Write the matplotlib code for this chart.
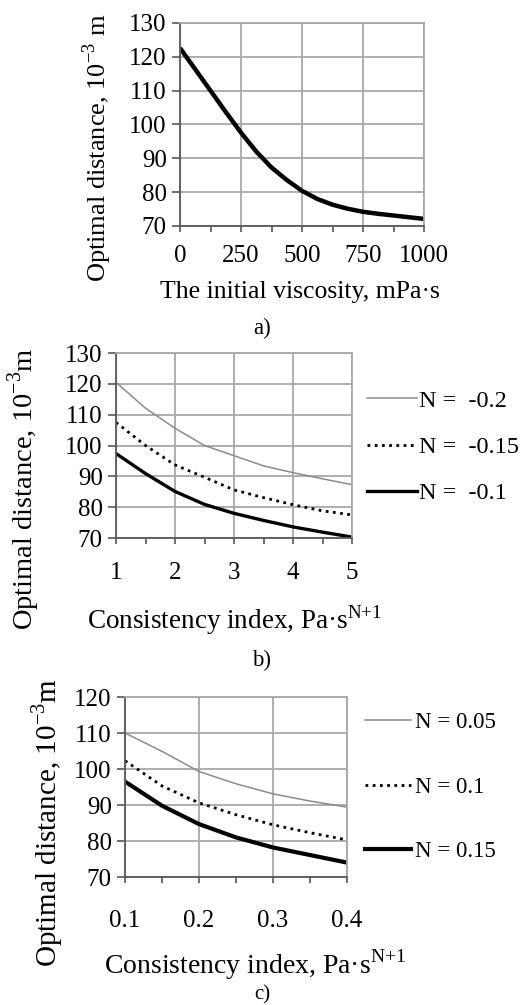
import matplotlib
matplotlib.use("Agg")
import matplotlib.pyplot as plt

plt.rcParams['font.family'] = ['Liberation Serif', 'DejaVu Serif']
plt.rcParams['mathtext.fontset'] = 'custom'
plt.rcParams['mathtext.rm'] = 'Liberation Serif'

# a) optimal distance vs initial viscosity
visc = [0, 62.5, 125, 187.5, 250, 312.5, 375, 437.5, 500, 562.5, 625, 687.5, 750, 812.5, 875, 937.5, 1000]
dist_a = [122.6, 116.3, 110.0, 103.7, 97.6, 92.0, 87.3, 83.6, 80.4, 78.0, 76.3, 75.1, 74.2, 73.6, 73.1, 72.6, 72.1]

# b) consistency index, N < 0
k_b = [1, 1.5, 2, 2.5, 3, 3.5, 4, 4.5, 5]
b_n020 = [120.5, 112.1, 105.6, 100.0, 96.7, 93.4, 91.2, 89.2, 87.3]
b_n015 = [107.5, 100.0, 93.7, 89.7, 85.6, 83.1, 80.8, 78.8, 77.5]
b_n010 = [97.4, 90.9, 85.1, 80.9, 78.0, 75.7, 73.6, 71.9, 70.3]

# c) consistency index, N > 0
k_c = [0.1, 0.15, 0.2, 0.25, 0.3, 0.35, 0.4]
c_n005 = [110.0, 104.9, 99.3, 95.9, 93.1, 91.1, 89.4]
c_n010 = [102.3, 95.3, 90.6, 87.3, 84.5, 82.3, 80.3]
c_n015 = [96.5, 89.8, 84.7, 81.0, 78.2, 76.1, 74.0]

W, H = 531, 1005
fig = plt.figure(figsize=(W / 100, H / 100), dpi=100)


def box(l, t, r, b):
    return [l / W, 1 - b / H, (r - l) / W, (b - t) / H]


def style(ax, fs, xpad):
    ax.grid(True, which='major', color='#a8a8a8', lw=1.3)
    ax.set_axisbelow(True)
    for s in ['top', 'right']:
        ax.spines[s].set_color('#a8a8a8')
        ax.spines[s].set_linewidth(1.3)
    for s in ['left', 'bottom']:
        ax.spines[s].set_color('#585858')
        ax.spines[s].set_linewidth(1.3)
    ax.tick_params(axis='both', which='both', direction='out', color='#585858', width=1.2)
    ax.tick_params(axis='y', length=5.5, pad=4, labelsize=fs)
    ax.tick_params(axis='x', which='both', length=4.5)
    ax.tick_params(axis='x', pad=xpad, labelsize=fs)


sup = r'$^{\mathrm{N{+}1}}$'

# panel a
ax1 = fig.add_axes(box(180, 23, 424, 226))
ax1.plot(visc, dist_a, color='black', lw=3.2, solid_capstyle='butt')
ax1.set_xlim(0, 1000)
ax1.set_ylim(70, 130)
ax1.set_xticks([0, 250, 500, 750, 1000])
ax1.set_xticks([125, 375, 625, 875], minor=True)
ax1.set_yticks(range(70, 131, 10))
style(ax1, 18, 9)
fig.text(300 / W, 1 - 292 / H, 'The initial viscosity, mPa·s', ha='center', va='center', fontsize=18.5)
fig.text(97 / W, 1 - 148 / H, r'Optimal distance, 10$^{-3}$ m', rotation=90, ha='center', va='center', fontsize=19)
fig.text(262 / W, 1 - 328 / H, 'a)', ha='center', va='center', fontsize=16.5)

# panel b
ax2 = fig.add_axes(box(116, 353, 352, 538))
ax2.plot(k_b, b_n020, color='#8c8c8c', lw=1.1, label='N =  -0.2')
ax2.plot(k_b, b_n015, color='black', lw=2.0, linestyle=(0, (1, 1.6)), label='N =  -0.15')
ax2.plot(k_b, b_n010, color='black', lw=2.4, label='N =  -0.1')
ax2.set_xlim(1, 5)
ax2.set_ylim(70, 130)
ax2.set_xticks([1, 2, 3, 4, 5])
ax2.set_xticks([1.5, 2.5, 3.5, 4.5], minor=True)
ax2.set_yticks(range(70, 131, 10))
style(ax2, 18, 13)
ax2.legend(loc='center left', bbox_to_anchor=(367 / W, 1 - 447 / H), bbox_transform=fig.transFigure,
           frameon=False, fontsize=17.5, handlelength=2.05, handletextpad=0.1, labelspacing=1.0,
           borderpad=0, borderaxespad=0)
fig.text(235 / W, 1 - 620 / H, 'Consistency index, Pa·s' + sup, ha='center', va='center', fontsize=19.5)
fig.text(24 / W, 1 - 489 / H, r'Optimal distance, 10$^{-3}$m', rotation=90, ha='center', va='center', fontsize=20.5)
fig.text(262 / W, 1 - 660 / H, 'b)', ha='center', va='center', fontsize=16.5)

# panel c
ax3 = fig.add_axes(box(125, 697, 347, 877))
ax3.plot(k_c, c_n005, color='#8c8c8c', lw=1.1, label='N = 0.05')
ax3.plot(k_c, c_n010, color='black', lw=2.0, linestyle=(0, (1, 1.6)), label='N = 0.1')
ax3.plot(k_c, c_n015, color='black', lw=3.0, label='N = 0.15')
ax3.set_xlim(0.1, 0.4)
ax3.set_ylim(70, 120)
ax3.set_xticks([0.1, 0.2, 0.3, 0.4])
ax3.set_xticks([0.15, 0.25, 0.35], minor=True)
ax3.set_yticks(range(70, 121, 10))
style(ax3, 18, 19)
ax3.legend(loc='center left', bbox_to_anchor=(365 / W, 1 - 787 / H), bbox_transform=fig.transFigure,
           frameon=False, fontsize=16.5, handlelength=2.0, handletextpad=0.2, labelspacing=1.9,
           borderpad=0, borderaxespad=0)
fig.text(255 / W, 1 - 965 / H, 'Consistency index, Pa·s' + sup, ha='center', va='center', fontsize=20)
fig.text(47 / W, 1 - 823 / H, r'Optimal distance, 10$^{-3}$m', rotation=90, ha='center', va='center', fontsize=21)
fig.text(262 / W, 1 - 1004 / H, 'c)', ha='center', va='bottom', fontsize=15)

fig.savefig('out.png', dpi=100)
